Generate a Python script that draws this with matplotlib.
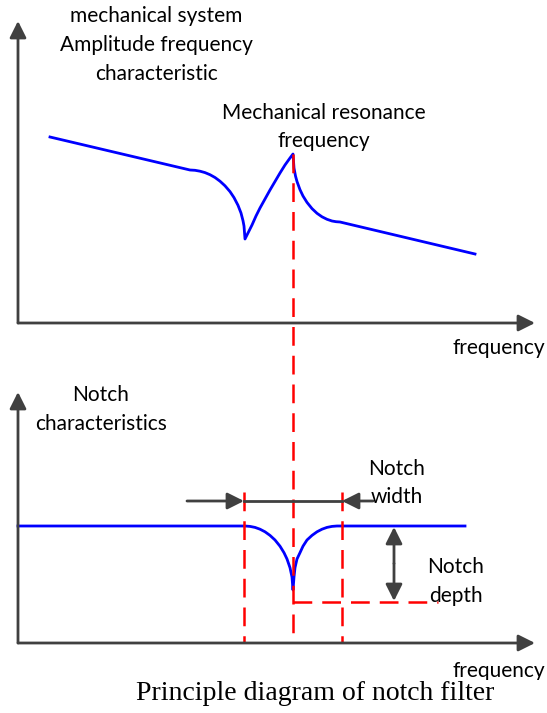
import matplotlib
matplotlib.use('Agg')
import matplotlib.pyplot as plt
from matplotlib.patches import Rectangle

# canvas works in pixel units, y grows downward
W, H = 547, 713

# upper panel: amplitude-frequency response of the mechanical system
resp_x = [50, 190, 195, 200, 205, 210, 215, 220, 225, 230, 234, 238, 241, 243, 244, 245,
          248, 252, 256, 260, 265, 270, 275, 280, 285, 290, 293,
          294, 295.5, 297, 300, 303, 307, 312, 317, 322, 327, 332, 336, 340, 475]
resp_y = [137, 170, 170.3, 171.2, 172.6, 174.7, 177.5, 181.2, 185.8, 191.6, 197.6, 205.3, 213, 220.7, 226, 239,
          233, 225, 216, 208, 199, 190, 181.5, 173, 165, 158, 154,
          168, 176, 181.5, 189.7, 196, 202.4, 208.6, 213.3, 216.8, 219.3, 221, 221.7, 222, 254]
resonance_x = 293
resonance_y = 154

# lower panel: notch filter response
notch_x = [18, 245, 250, 255, 260, 265, 270, 275, 280, 284, 287, 290, 292, 293,
           294, 295, 297, 300, 303, 307, 312, 317, 322, 327, 332, 337, 342, 465]
notch_y = [526, 526, 526.4, 527.4, 529.2, 531.8, 535.4, 540, 546.2, 552.7, 559, 567.7, 577, 590,
           577, 567.7, 559, 552.7, 546.2, 540, 535.4, 531.8, 529.2, 527.4, 526.4, 526, 526, 526]
notch_left, notch_right = 244, 342
notch_top, notch_bottom = 526, 601

axis_col = '#404040'
blue = '#0000ff'
red = '#ff0000'
font = 'Lato'

fig = plt.figure(figsize=(W / 100, H / 100), dpi=100)
ax = fig.add_axes([0, 0, 1, 1])
ax.set_xlim(0, W)
ax.set_ylim(H, 0)
ax.axis('off')


def arrow(x0, y0, x1, y1, style='-|>'):
    ax.annotate('', xy=(x1, y1), xytext=(x0, y0),
                arrowprops=dict(arrowstyle=style + ',head_length=0.4,head_width=0.2',
                                mutation_scale=25, lw=2, color=axis_col,
                                shrinkA=0, shrinkB=0))


# axes of both panels
arrow(18, 323, 18, 21)
arrow(18, 323, 535, 323)
arrow(18, 643, 18, 392)
arrow(18, 643, 535, 643)

# curves
ax.plot(resp_x, resp_y, color=blue, lw=2, solid_joinstyle='round')
ax.plot(notch_x, notch_y, color=blue, lw=2, solid_joinstyle='round')

# dashed guides
dash = dict(color=red, lw=1.8, dashes=(7.5, 4))
ax.plot([resonance_x, resonance_x], [resonance_y, 643], **dash)
ax.plot([notch_left, notch_left], [492, 643], **dash)
ax.plot([notch_right, notch_right], [492, 643], **dash)
ax.plot([resonance_x, 438], [notch_bottom + 1, notch_bottom + 1], **dash)

# notch width and depth markers
ax.plot([notch_left, notch_right], [501, 501], color=axis_col, lw=2)
arrow(187, 501, notch_left, 501)
arrow(373, 501, notch_right, 501)
arrow(394, (notch_top + notch_bottom) / 2, 394, notch_top + 1)
arrow(394, (notch_top + notch_bottom) / 2, 394, notch_bottom)

txt = dict(fontsize=15, family=font, ha='center', va='center', color='black')
ax.text(156, 16, 'mechanical system', **txt)
ax.text(156, 45, 'Amplitude frequency', **txt)
ax.text(156, 74, 'characteristic', **txt)
ax.text(324, 113, 'Mechanical resonance', **txt)
ax.text(324, 141, 'frequency', **txt)
ax.text(499, 348, 'frequency', **txt)
ax.text(101, 395, 'Notch', **txt)
ax.text(101, 424, 'characteristics', **txt)
ax.text(397, 469, 'Notch', **txt)
ax.text(397, 497, 'width', **txt)
ax.text(456, 567, 'Notch', **txt)
ax.text(456, 596, 'depth', **txt)
ax.text(499, 671, 'frequency', **txt)

# caption strip sits over the lower frequency label
ax.add_patch(Rectangle((0, 680), W, H - 680, facecolor='white', edgecolor='none', zorder=5))
ax.text(315, 693, 'Principle diagram of notch filter', fontsize=20,
        family='Liberation Serif', ha='center', va='center', color='black', zorder=6)

fig.savefig('out.png', dpi=100)
